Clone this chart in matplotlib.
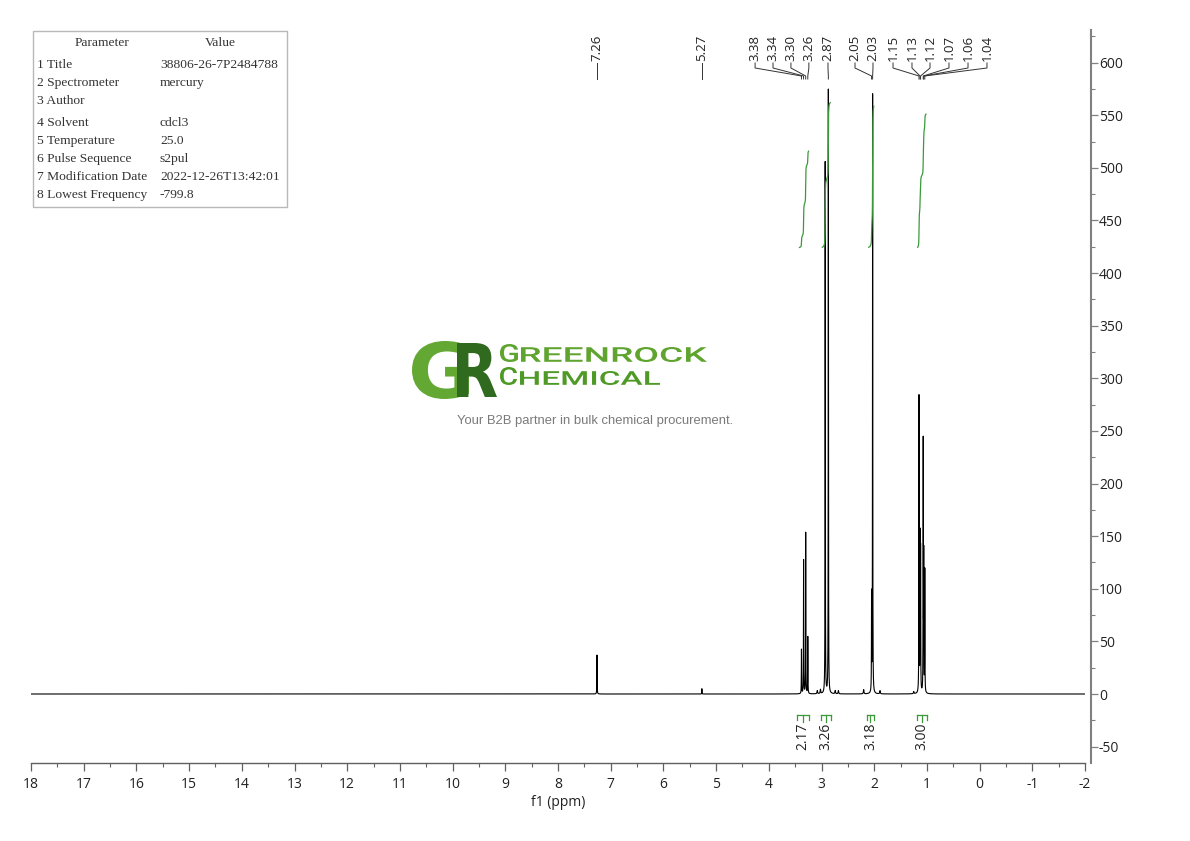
import numpy as np
import matplotlib
matplotlib.use("Agg")
import matplotlib.pyplot as plt
from matplotlib.textpath import TextPath
from matplotlib.patches import PathPatch, Rectangle
from matplotlib.font_manager import FontProperties
from matplotlib.transforms import Affine2D, blended_transform_factory
from matplotlib.ticker import MultipleLocator, FixedLocator

plt.rcParams['axes.unicode_minus'] = False
plt.rcParams['font.family'] = ['Open Sans', 'DejaVu Sans']

# ---------------- data ----------------
peak_ppm = [7.26, 5.27, 3.38, 3.34, 3.30, 3.26, 2.93, 2.87, 2.05, 2.03,
            1.15, 1.13, 1.12, 1.07, 1.06, 1.04]
peak_height = [37, 5, 42, 127, 153, 54, 505, 574, 91, 569,
               281, 145, 132, 236, 125, 116]
minor_ppm = [3.08, 3.02, 2.74, 2.68, 2.20, 1.89, 1.25]
minor_height = [3, 4, 3, 3, 4, 3, 2]

peak_labels = [7.26, 5.27, 3.38, 3.34, 3.30, 3.26, 2.87, 2.05, 2.03,
               1.15, 1.13, 1.12, 1.07, 1.06, 1.04]
# label text positions (ppm) after spreading
peak_label_pos = [7.26, 5.27, 4.26, 3.92, 3.58, 3.24, 2.877, 2.364, 2.023,
                  1.643, 1.283, 0.941, 0.581, 0.220, -0.140]

integral_from = [3.465, 3.01, 2.137, 1.188]
integral_to = [3.237, 2.82, 2.004, 0.998]
integral_value = [2.17, 3.26, 3.18, 3.00]

x_ticks = list(range(18, -3, -1))
y_ticks = list(range(-50, 601, 50))

param_names = ["1 Title", "2 Spectrometer", "3 Author", "4 Solvent",
               "5 Temperature", "6 Pulse Sequence", "7 Modification Date",
               "8 Lowest Frequency"]
param_values = ["38806-26-7P2484788", "mercury", "", "cdcl3", "25.0",
                "s2pul", "2022-12-26T13:42:01", "-799.8"]

# ---------------- figure ----------------
W, H = 1190, 841
fig = plt.figure(figsize=(W / 100, H / 100), dpi=100)
fig.patch.set_facecolor('white')

ax_left, ax_right, ax_top, ax_bot = 31, 1085, 30, 763
y0_px, px_per_unit = 694, 1.0523
ax = fig.add_axes([ax_left / W, 1 - ax_bot / H, (ax_right - ax_left) / W,
                   (ax_bot - ax_top) / H])
ax.patch.set_alpha(0)

# spectrum (Lorentzian lines from read peak positions/heights)
x = np.linspace(18, -2, 400001)
y = np.zeros_like(x)
hw = 0.0025
for p, h in zip(peak_ppm, peak_height):
    y += h * hw ** 2 / ((x - p) ** 2 + hw ** 2)
for p, h in zip(minor_ppm, minor_height):
    w = 0.006
    y += h * w ** 2 / ((x - p) ** 2 + w ** 2)
ax.plot(x, y, color='black', lw=0.8)

ax.set_xlim(18, -2)
ax.set_ylim((y0_px - ax_bot) / px_per_unit, (y0_px - ax_top) / px_per_unit)

# integral curves
int_base = 424
int_scale = 42.5
green = '#3a9a3a'
for a, b, v in zip(integral_from, integral_to, integral_value):
    m = (x <= a) & (x >= b)
    xs = x[m]
    cum = np.cumsum(y[m])
    cum = cum / cum[-1]
    keep = (cum > 0.004) & (cum < 0.996)
    ax.plot(xs[keep], int_base + int_scale * v * cum[keep], color=green, lw=0.9)
    # bracket below baseline
    yb = (y0_px - 715) / px_per_unit
    ye = (y0_px - 720) / px_per_unit
    yc = (y0_px - 722) / px_per_unit
    ax.plot([a, b], [yb, yb], color=green, lw=0.9, clip_on=False)
    ax.plot([a, a], [yb, ye], color=green, lw=0.9, clip_on=False)
    ax.plot([b, b], [yb, ye], color=green, lw=0.9, clip_on=False)
    c = (a + b) / 2
    ax.plot([c, c], [yb, yc], color=green, lw=0.9, clip_on=False)
    ax.text(c, (y0_px - 723) / px_per_unit, f"{v:.2f}", rotation=90,
            ha='center', va='top', fontsize=10, color='#222222')

# peak labels
bt = blended_transform_factory(ax.transData, ax.transAxes)
def fy(py):
    return (ax_bot - py) / (ax_bot - ax_top)
for p, lp in zip(peak_labels, peak_label_pos):
    ax.text(lp, fy(61), f"{p:.2f}", rotation=90, ha='center', va='bottom',
            fontsize=9.5, color='#222222', transform=bt, clip_on=False)
    ax.plot([lp, lp, p, p], [fy(63), fy(68), fy(76), fy(79)],
            color='#333333', lw=0.7, transform=bt, clip_on=False)

# axes styling
for s in ['left', 'top']:
    ax.spines[s].set_visible(False)
ax.spines['right'].set_position(('outward', 4))
ax.spines['right'].set_color('#808080')
ax.spines['right'].set_linewidth(1.5)
ax.spines['bottom'].set_color('#606060')
ax.spines['bottom'].set_linewidth(1.0)
ax.yaxis.set_ticks_position('right')
ax.yaxis.set_major_locator(FixedLocator(y_ticks))
ax.yaxis.set_minor_locator(MultipleLocator(25))
ax.xaxis.set_major_locator(FixedLocator(x_ticks))
ax.xaxis.set_minor_locator(MultipleLocator(0.5))
ax.set_xticklabels([str(t) for t in x_ticks])
ax.set_yticklabels([str(t) for t in y_ticks])
ax.tick_params(axis='x', which='major', length=6, width=0.9, color='#606060',
               labelsize=10, pad=4, labelcolor='#222222')
ax.tick_params(axis='x', which='minor', length=3, width=0.8, color='#606060')
ax.tick_params(axis='y', which='major', length=5, width=0.9, color='#808080',
               labelsize=10, pad=1, labelcolor='#222222')
ax.tick_params(axis='y', which='minor', length=3, width=0.8, color='#808080')
ax.set_xlabel("f1 (ppm)", fontsize=10, labelpad=2, color='#222222')

# ---------------- overlay (table, logo) ----------------
ov = fig.add_axes([0, 0, 1, 1], zorder=5)
ov.set_xlim(0, W)
ov.set_ylim(H, 0)
ov.axis('off')

ov.add_patch(Rectangle((33, 31), 254, 176, fc='none', ec='#b8b8b8', lw=1))
serif = ['Liberation Serif', 'DejaVu Serif']
ov.text(102, 43, "Parameter", ha='center', va='center', fontsize=9.7,
        family=serif, color='#333333')
ov.text(220, 43, "Value", ha='center', va='center', fontsize=9.7,
        family=serif, color='#333333')
row_y = [65, 83, 101, 123, 141, 159, 177, 195]
for ry, n, v in zip(row_y, param_names, param_values):
    ov.text(37, ry, n, ha='left', va='center', fontsize=9.7, family=serif,
            color='#333333')
    ov.text(160, ry, v, ha='left', va='center', fontsize=9.7, family=serif,
            color='#333333')


def text_box(s, x0, y0, x1, y1, color, family='DejaVu Sans', weight='bold'):
    tp = TextPath((0, 0), s, size=100,
                  prop=FontProperties(family=family, weight=weight))
    bb = tp.get_extents()
    sx = (x1 - x0) / bb.width
    sy = (y1 - y0) / bb.height
    tr = Affine2D().translate(-bb.x0, -bb.y0).scale(sx, -sy).translate(x0, y1)
    ov.add_patch(PathPatch(tr.transform_path(tp), fc=color, ec='none'))


logo_font = ['Roboto', 'DejaVu Sans']
text_box("G", 412, 341, 469, 399, '#63a832')
text_box("R", 457, 343, 497, 397, '#2f6a1e')
text_box("G", 500, 344, 518, 362, '#5ea42e', family=logo_font, weight='medium')
text_box("REENROCK", 521, 347, 707, 362, '#5ea42e', family=logo_font, weight='medium')
text_box("C", 500, 367, 517, 385, '#4f9a27', family=logo_font, weight='medium')
text_box("HEMICAL", 520, 371, 660, 385, '#4f9a27', family=logo_font, weight='medium')
ov.text(595, 421, "Your B2B partner in bulk chemical procurement.",
        ha='center', va='center', fontsize=9.4, color='#7a7a7a',
        family=['Liberation Sans', 'DejaVu Sans'])

fig.savefig("out.png", dpi=100)
